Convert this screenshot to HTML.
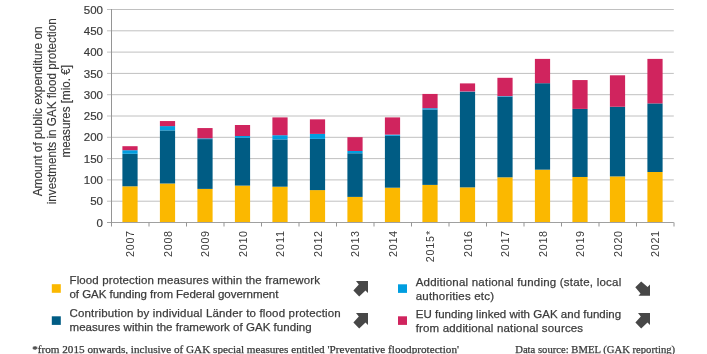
<!DOCTYPE html><html><head><meta charset="utf-8"><style>html,body{margin:0;padding:0;background:#fff;width:707px;height:354px;overflow:hidden}svg{display:block;will-change:transform}text{font-family:"Liberation Sans",sans-serif}</style></head><body>
<svg width="707" height="354" viewBox="0 0 707 354">
<rect width="707" height="354" fill="#fff"/>
<line x1="107" x2="673.8" y1="201.20" y2="201.20" stroke="#c0c0c0" stroke-width="1"/>
<line x1="107" x2="673.8" y1="179.90" y2="179.90" stroke="#c0c0c0" stroke-width="1"/>
<line x1="107" x2="673.8" y1="158.60" y2="158.60" stroke="#c0c0c0" stroke-width="1"/>
<line x1="107" x2="673.8" y1="137.30" y2="137.30" stroke="#c0c0c0" stroke-width="1"/>
<line x1="107" x2="673.8" y1="116.00" y2="116.00" stroke="#c0c0c0" stroke-width="1"/>
<line x1="107" x2="673.8" y1="94.70" y2="94.70" stroke="#c0c0c0" stroke-width="1"/>
<line x1="107" x2="673.8" y1="73.40" y2="73.40" stroke="#c0c0c0" stroke-width="1"/>
<line x1="107" x2="673.8" y1="52.10" y2="52.10" stroke="#c0c0c0" stroke-width="1"/>
<line x1="107" x2="673.8" y1="30.80" y2="30.80" stroke="#c0c0c0" stroke-width="1"/>
<line x1="107" x2="673.8" y1="9.50" y2="9.50" stroke="#c0c0c0" stroke-width="1"/>
<rect x="122.40" y="186.30" width="15.2" height="36.20" fill="#fbb800"/>
<rect x="122.40" y="153.80" width="15.2" height="32.50" fill="#005c84"/>
<rect x="122.40" y="150.20" width="15.2" height="3.60" fill="#009ee0"/>
<rect x="122.40" y="146.20" width="15.2" height="4.00" fill="#d0245e"/>
<rect x="159.90" y="183.50" width="15.2" height="39.00" fill="#fbb800"/>
<rect x="159.90" y="130.40" width="15.2" height="53.10" fill="#005c84"/>
<rect x="159.90" y="126.10" width="15.2" height="4.30" fill="#009ee0"/>
<rect x="159.90" y="121.05" width="15.2" height="5.05" fill="#d0245e"/>
<rect x="197.40" y="188.90" width="15.2" height="33.60" fill="#fbb800"/>
<rect x="197.40" y="139.10" width="15.2" height="49.80" fill="#005c84"/>
<rect x="197.40" y="138.36" width="15.2" height="0.74" fill="#009ee0"/>
<rect x="197.40" y="128.06" width="15.2" height="10.30" fill="#d0245e"/>
<rect x="234.90" y="185.60" width="15.2" height="36.90" fill="#fbb800"/>
<rect x="234.90" y="137.80" width="15.2" height="47.80" fill="#005c84"/>
<rect x="234.90" y="136.00" width="15.2" height="1.80" fill="#009ee0"/>
<rect x="234.90" y="125.00" width="15.2" height="11.00" fill="#d0245e"/>
<rect x="272.40" y="186.70" width="15.2" height="35.80" fill="#fbb800"/>
<rect x="272.40" y="139.40" width="15.2" height="47.30" fill="#005c84"/>
<rect x="272.40" y="135.20" width="15.2" height="4.20" fill="#009ee0"/>
<rect x="272.40" y="117.40" width="15.2" height="17.80" fill="#d0245e"/>
<rect x="309.90" y="190.10" width="15.2" height="32.40" fill="#fbb800"/>
<rect x="309.90" y="138.86" width="15.2" height="51.24" fill="#005c84"/>
<rect x="309.90" y="133.90" width="15.2" height="4.96" fill="#009ee0"/>
<rect x="309.90" y="119.35" width="15.2" height="14.55" fill="#d0245e"/>
<rect x="347.40" y="196.90" width="15.2" height="25.60" fill="#fbb800"/>
<rect x="347.40" y="153.27" width="15.2" height="43.63" fill="#005c84"/>
<rect x="347.40" y="151.00" width="15.2" height="2.27" fill="#009ee0"/>
<rect x="347.40" y="137.16" width="15.2" height="13.84" fill="#d0245e"/>
<rect x="384.90" y="187.70" width="15.2" height="34.80" fill="#fbb800"/>
<rect x="384.90" y="135.80" width="15.2" height="51.90" fill="#005c84"/>
<rect x="384.90" y="134.60" width="15.2" height="1.20" fill="#009ee0"/>
<rect x="384.90" y="117.40" width="15.2" height="17.20" fill="#d0245e"/>
<rect x="422.40" y="184.90" width="15.2" height="37.60" fill="#fbb800"/>
<rect x="422.40" y="109.50" width="15.2" height="75.40" fill="#005c84"/>
<rect x="422.40" y="108.20" width="15.2" height="1.30" fill="#009ee0"/>
<rect x="422.40" y="93.94" width="15.2" height="14.26" fill="#d0245e"/>
<rect x="459.90" y="187.35" width="15.2" height="35.15" fill="#fbb800"/>
<rect x="459.90" y="91.90" width="15.2" height="95.45" fill="#005c84"/>
<rect x="459.90" y="91.50" width="15.2" height="0.40" fill="#009ee0"/>
<rect x="459.90" y="83.40" width="15.2" height="8.10" fill="#d0245e"/>
<rect x="497.40" y="177.30" width="15.2" height="45.20" fill="#fbb800"/>
<rect x="497.40" y="96.70" width="15.2" height="80.60" fill="#005c84"/>
<rect x="497.40" y="96.15" width="15.2" height="0.55" fill="#009ee0"/>
<rect x="497.40" y="77.80" width="15.2" height="18.35" fill="#d0245e"/>
<rect x="534.90" y="169.67" width="15.2" height="52.83" fill="#fbb800"/>
<rect x="534.90" y="83.20" width="15.2" height="86.47" fill="#005c84"/>
<rect x="534.90" y="58.90" width="15.2" height="24.30" fill="#d0245e"/>
<rect x="572.40" y="176.97" width="15.2" height="45.53" fill="#fbb800"/>
<rect x="572.40" y="108.90" width="15.2" height="68.07" fill="#005c84"/>
<rect x="572.40" y="80.06" width="15.2" height="28.84" fill="#d0245e"/>
<rect x="609.90" y="176.40" width="15.2" height="46.10" fill="#fbb800"/>
<rect x="609.90" y="106.75" width="15.2" height="69.65" fill="#005c84"/>
<rect x="609.90" y="75.30" width="15.2" height="31.45" fill="#d0245e"/>
<rect x="647.40" y="172.00" width="15.2" height="50.50" fill="#fbb800"/>
<rect x="647.40" y="103.40" width="15.2" height="68.60" fill="#005c84"/>
<rect x="647.40" y="58.90" width="15.2" height="44.50" fill="#d0245e"/>
<line x1="107" x2="673.8" y1="222.5" y2="222.5" stroke="#a0a0a0" stroke-width="1"/>
<line x1="111.5" x2="111.5" y1="9" y2="226.5" stroke="#959595" stroke-width="1"/>
<line x1="149.00" x2="149.00" y1="222.5" y2="226.5" stroke="#959595" stroke-width="1"/>
<line x1="186.50" x2="186.50" y1="222.5" y2="226.5" stroke="#959595" stroke-width="1"/>
<line x1="224.00" x2="224.00" y1="222.5" y2="226.5" stroke="#959595" stroke-width="1"/>
<line x1="261.50" x2="261.50" y1="222.5" y2="226.5" stroke="#959595" stroke-width="1"/>
<line x1="299.00" x2="299.00" y1="222.5" y2="226.5" stroke="#959595" stroke-width="1"/>
<line x1="336.50" x2="336.50" y1="222.5" y2="226.5" stroke="#959595" stroke-width="1"/>
<line x1="374.00" x2="374.00" y1="222.5" y2="226.5" stroke="#959595" stroke-width="1"/>
<line x1="411.50" x2="411.50" y1="222.5" y2="226.5" stroke="#959595" stroke-width="1"/>
<line x1="449.00" x2="449.00" y1="222.5" y2="226.5" stroke="#959595" stroke-width="1"/>
<line x1="486.50" x2="486.50" y1="222.5" y2="226.5" stroke="#959595" stroke-width="1"/>
<line x1="524.00" x2="524.00" y1="222.5" y2="226.5" stroke="#959595" stroke-width="1"/>
<line x1="561.50" x2="561.50" y1="222.5" y2="226.5" stroke="#959595" stroke-width="1"/>
<line x1="599.00" x2="599.00" y1="222.5" y2="226.5" stroke="#959595" stroke-width="1"/>
<line x1="636.50" x2="636.50" y1="222.5" y2="226.5" stroke="#959595" stroke-width="1"/>
<line x1="674.00" x2="674.00" y1="222.5" y2="226.5" stroke="#959595" stroke-width="1"/>
<text x="103" y="226.60" text-anchor="end" font-size="11.5" fill="#3a3a3a" stroke="#3a3a3a" stroke-width="0.2">0</text>
<text x="103" y="205.30" text-anchor="end" font-size="11.5" fill="#3a3a3a" stroke="#3a3a3a" stroke-width="0.2">50</text>
<text x="103" y="184.00" text-anchor="end" font-size="11.5" fill="#3a3a3a" stroke="#3a3a3a" stroke-width="0.2">100</text>
<text x="103" y="162.70" text-anchor="end" font-size="11.5" fill="#3a3a3a" stroke="#3a3a3a" stroke-width="0.2">150</text>
<text x="103" y="141.40" text-anchor="end" font-size="11.5" fill="#3a3a3a" stroke="#3a3a3a" stroke-width="0.2">200</text>
<text x="103" y="120.10" text-anchor="end" font-size="11.5" fill="#3a3a3a" stroke="#3a3a3a" stroke-width="0.2">250</text>
<text x="103" y="98.80" text-anchor="end" font-size="11.5" fill="#3a3a3a" stroke="#3a3a3a" stroke-width="0.2">300</text>
<text x="103" y="77.50" text-anchor="end" font-size="11.5" fill="#3a3a3a" stroke="#3a3a3a" stroke-width="0.2">350</text>
<text x="103" y="56.20" text-anchor="end" font-size="11.5" fill="#3a3a3a" stroke="#3a3a3a" stroke-width="0.2">400</text>
<text x="103" y="34.90" text-anchor="end" font-size="11.5" fill="#3a3a3a" stroke="#3a3a3a" stroke-width="0.2">450</text>
<text x="103" y="13.60" text-anchor="end" font-size="11.5" fill="#3a3a3a" stroke="#3a3a3a" stroke-width="0.2">500</text>
<text transform="translate(134.10,230.9) rotate(-90)" text-anchor="end" font-size="10.8" fill="#3a3a3a" textLength="26.1" lengthAdjust="spacing">2007</text>
<text transform="translate(171.60,230.9) rotate(-90)" text-anchor="end" font-size="10.8" fill="#3a3a3a" textLength="26.1" lengthAdjust="spacing">2008</text>
<text transform="translate(209.10,230.9) rotate(-90)" text-anchor="end" font-size="10.8" fill="#3a3a3a" textLength="26.1" lengthAdjust="spacing">2009</text>
<text transform="translate(246.60,230.9) rotate(-90)" text-anchor="end" font-size="10.8" fill="#3a3a3a" textLength="26.1" lengthAdjust="spacing">2010</text>
<text transform="translate(284.10,230.9) rotate(-90)" text-anchor="end" font-size="10.8" fill="#3a3a3a" textLength="26.1" lengthAdjust="spacing">2011</text>
<text transform="translate(321.60,230.9) rotate(-90)" text-anchor="end" font-size="10.8" fill="#3a3a3a" textLength="26.1" lengthAdjust="spacing">2012</text>
<text transform="translate(359.10,230.9) rotate(-90)" text-anchor="end" font-size="10.8" fill="#3a3a3a" textLength="26.1" lengthAdjust="spacing">2013</text>
<text transform="translate(396.60,230.9) rotate(-90)" text-anchor="end" font-size="10.8" fill="#3a3a3a" textLength="26.1" lengthAdjust="spacing">2014</text>
<text transform="translate(434.10,230.9) rotate(-90)" text-anchor="end" font-size="10.8" fill="#3a3a3a" textLength="31.4" lengthAdjust="spacing">2015*</text>
<text transform="translate(471.60,230.9) rotate(-90)" text-anchor="end" font-size="10.8" fill="#3a3a3a" textLength="26.1" lengthAdjust="spacing">2016</text>
<text transform="translate(509.10,230.9) rotate(-90)" text-anchor="end" font-size="10.8" fill="#3a3a3a" textLength="26.1" lengthAdjust="spacing">2017</text>
<text transform="translate(546.60,230.9) rotate(-90)" text-anchor="end" font-size="10.8" fill="#3a3a3a" textLength="26.1" lengthAdjust="spacing">2018</text>
<text transform="translate(584.10,230.9) rotate(-90)" text-anchor="end" font-size="10.8" fill="#3a3a3a" textLength="26.1" lengthAdjust="spacing">2019</text>
<text transform="translate(621.60,230.9) rotate(-90)" text-anchor="end" font-size="10.8" fill="#3a3a3a" textLength="26.1" lengthAdjust="spacing">2020</text>
<text transform="translate(659.10,230.9) rotate(-90)" text-anchor="end" font-size="10.8" fill="#3a3a3a" textLength="26.1" lengthAdjust="spacing">2021</text>
<text transform="translate(42,111.3) rotate(-90)" text-anchor="middle" font-size="12" fill="#3a3a3a" stroke="#3a3a3a" stroke-width="0.15" textLength="170" lengthAdjust="spacingAndGlyphs">Amount of public expenditure on</text>
<text transform="translate(56,111.3) rotate(-90)" text-anchor="middle" font-size="12" fill="#3a3a3a" stroke="#3a3a3a" stroke-width="0.15" textLength="186" lengthAdjust="spacingAndGlyphs">investments in GAK flood protection</text>
<text transform="translate(70,111.3) rotate(-90)" text-anchor="middle" font-size="12" fill="#3a3a3a" stroke="#3a3a3a" stroke-width="0.15" textLength="92.5" lengthAdjust="spacingAndGlyphs">measures [mio. €]</text>
<rect x="51.8" y="284.2" width="9" height="8.6" fill="#fbb800"/>
<rect x="51.8" y="316.3" width="9" height="8.6" fill="#005c84"/>
<rect x="398" y="284.3" width="9" height="8.6" fill="#009ee0"/>
<rect x="398" y="316.3" width="9" height="8.6" fill="#d0245e"/>
<text x="69.5" y="283.7" font-size="11.5" fill="#3c3c3c" stroke="#3c3c3c" stroke-width="0.25" textLength="250.4" lengthAdjust="spacing">Flood protection measures within the framework</text>
<text x="69.5" y="297.5" font-size="11.5" fill="#3c3c3c" stroke="#3c3c3c" stroke-width="0.25" textLength="208.9" lengthAdjust="spacing">of GAK funding from Federal government</text>
<text x="69.5" y="317.1" font-size="11.5" fill="#3c3c3c" stroke="#3c3c3c" stroke-width="0.25" textLength="271.2" lengthAdjust="spacing">Contribution by individual Länder to flood protection</text>
<text x="69.5" y="331.3" font-size="11.5" fill="#3c3c3c" stroke="#3c3c3c" stroke-width="0.25" textLength="242.1" lengthAdjust="spacing">measures within the framework of GAK funding</text>
<text x="415.7" y="286.3" font-size="11.5" fill="#3c3c3c" stroke="#3c3c3c" stroke-width="0.25" textLength="205.5" lengthAdjust="spacing">Additional national funding (state, local</text>
<text x="415.7" y="299.8" font-size="11.5" fill="#3c3c3c" stroke="#3c3c3c" stroke-width="0.25" textLength="78.3" lengthAdjust="spacing">authorities etc)</text>
<text x="415.7" y="317.7" font-size="11.5" fill="#3c3c3c" stroke="#3c3c3c" stroke-width="0.25" textLength="205.5" lengthAdjust="spacing">EU funding linked with GAK and funding</text>
<text x="415.7" y="332" font-size="11.5" fill="#3c3c3c" stroke="#3c3c3c" stroke-width="0.25" textLength="167.4" lengthAdjust="spacing">from additional national sources</text>
<polygon fill="#474747" points="356.00,281.00 368.00,281.00 368.00,293.00 365.50,290.50 359.20,296.60 353.40,290.40 358.80,284.60"/>
<polygon fill="#474747" points="356.00,313.00 368.00,313.00 368.00,325.00 365.50,322.50 359.20,328.60 353.40,322.40 358.80,316.60"/>
<polygon fill="#474747" points="638.00,313.00 650.00,313.00 650.00,325.00 647.50,322.50 641.20,328.60 635.40,322.40 640.80,316.60"/>
<polygon fill="#474747" points="650.00,295.70 638.50,295.70 640.50,293.60 635.30,287.30 641.20,281.50 647.60,287.00 650.00,284.50"/>
<text x="32.2" y="352.9" font-family="Liberation Serif" font-size="10.6" fill="#3a3a3a" stroke="#3a3a3a" stroke-width="0.25" textLength="426.8" lengthAdjust="spacingAndGlyphs" style="font-family:'Liberation Serif',serif">*from 2015 onwards, inclusive of GAK special measures entitled &#39;Preventative floodprotection&#39;</text>
<text x="515.2" y="352.9" font-size="10.6" fill="#3a3a3a" stroke="#3a3a3a" stroke-width="0.25" textLength="159.9" lengthAdjust="spacingAndGlyphs" style="font-family:'Liberation Serif',serif">Data source: BMEL (GAK reporting)</text>
</svg></body></html>
